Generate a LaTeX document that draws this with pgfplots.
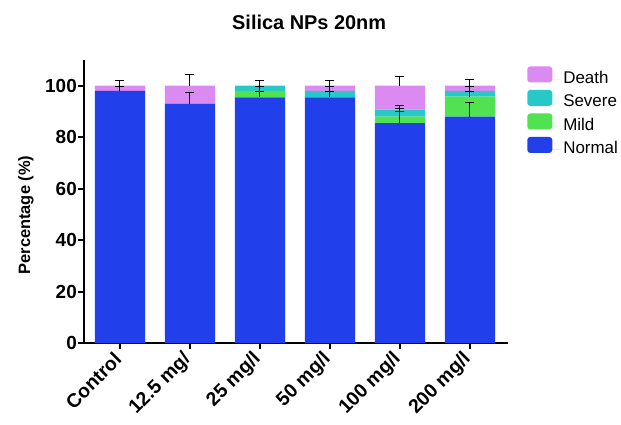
\documentclass[border=0pt]{standalone}
\usepackage{fontspec}
\setmainfont{Liberation Sans}
\usepackage{pgfplots}
\pgfplotsset{compat=1.18}
\definecolor{cNormal}{RGB}{33,64,235}
\definecolor{cMild}{RGB}{80,226,80}
\definecolor{cSevere}{RGB}{40,200,200}
\definecolor{cDeath}{RGB}{218,138,240}
\pgfplotsset{
  commonaxis/.style={
    at={(0,0)}, anchor=south west,
    width=424bp, height=283bp, scale only axis,
    xmin=-0.514, xmax=5.543, ymin=0, ymax=110,
  },
  mylegend/.style={legend image code/.code={\fill[##1,draw=none,rounded corners=3bp] (0bp,-3bp) rectangle (25bp,13bp);\path (0bp,0bp) -- (34bp,0bp);}},
}
\begin{document}
\begin{tikzpicture}
\path[use as bounding box] (-84bp,-82bp) rectangle (537bp,343bp);
\begin{axis}[
  commonaxis,
  ybar stacked, bar width=0.72,
  axis x line*=bottom, axis y line*=left,
  axis line style={line width=2.5bp, black},
  tick style={line width=2bp, black},
  major tick length=6bp, tick align=outside,
  ytick={0,20,...,100},
  xtick={0,...,5},
  xticklabels={Control,12.5 mg/,25 mg/l,50 mg/l,100 mg/l,200 mg/l},
  /pgf/number format/assume math mode=true,
  yticklabel style={font=\fontsize{19}{22}\selectfont\bfseries, inner sep=1bp},
  xticklabel style={font=\fontsize{19.5}{23}\selectfont\bfseries, rotate=45, anchor=east, inner sep=3bp},
  xticklabel shift=5bp,
  ylabel={Percentage (\%)},
  ylabel style={font=\fontsize{16.5}{19}\selectfont\bfseries, at={(axis description cs:-0.137,0.452)}, anchor=center},
  title={Silica NPs 20nm},
  title style={font=\fontsize{20}{24}\selectfont\bfseries, at={(axis description cs:0.531,1)}, anchor=base, yshift=25bp},
  legend style={at={(axis description cs:1.045,0.978)}, anchor=north west, draw=none, fill=none,
    font=\fontsize{17}{20}\selectfont, row sep=0.5bp, inner sep=0pt,
    nodes={inner sep=2bp, text height=12bp, text depth=4bp}},
  legend cell align=left,
  reverse legend,
]
\addplot[fill=cNormal, draw=none, mylegend] coordinates {(0,98) (1,93) (2,95.5) (3,95.5) (4,85.5) (5,88)};
\addlegendentry{Normal}
\addplot[fill=cMild, draw=none, mylegend] coordinates {(0,0) (1,0) (2,2.5) (3,0) (4,2.5) (5,7.8)};
\addlegendentry{Mild}
\addplot[fill=cSevere, draw=none, mylegend] coordinates {(0,0) (1,0) (2,2) (3,2.5) (4,2.7) (5,2.2)};
\addlegendentry{Severe}
\addplot[fill=cDeath, draw=none, mylegend] coordinates {(0,2) (1,7) (2,0) (3,2) (4,9.3) (5,2)};
\addlegendentry{Death}
\end{axis}
\begin{axis}[commonaxis, axis lines=none, xtick=\empty, ytick=\empty]
\addplot[black, line width=1bp, mark=none, draw=none, forget plot,
  error bars/.cd, y dir=plus, y explicit,
  error mark=-, error mark options={draw=black, line width=1bp, mark size=4.5bp, rotate=90},
  error bar style={draw=black, line width=1bp}]
  table[x=x, y=y, y error=e] {
x y e
0 98 1.6
0 100 2.1
1 93 4.5
1 100 4.5
2 95.5 2.1
2 98 1.8
2 100 2
3 95.5 2.1
3 98 1.8
3 100 2
4 85.5 4.3
4 88 3
4 90.7 1.6
4 100 3.5
5 88 5.5
5 95.8 2
5 98 1.8
5 100 2.3
};
\end{axis}
\end{tikzpicture}
\end{document}
